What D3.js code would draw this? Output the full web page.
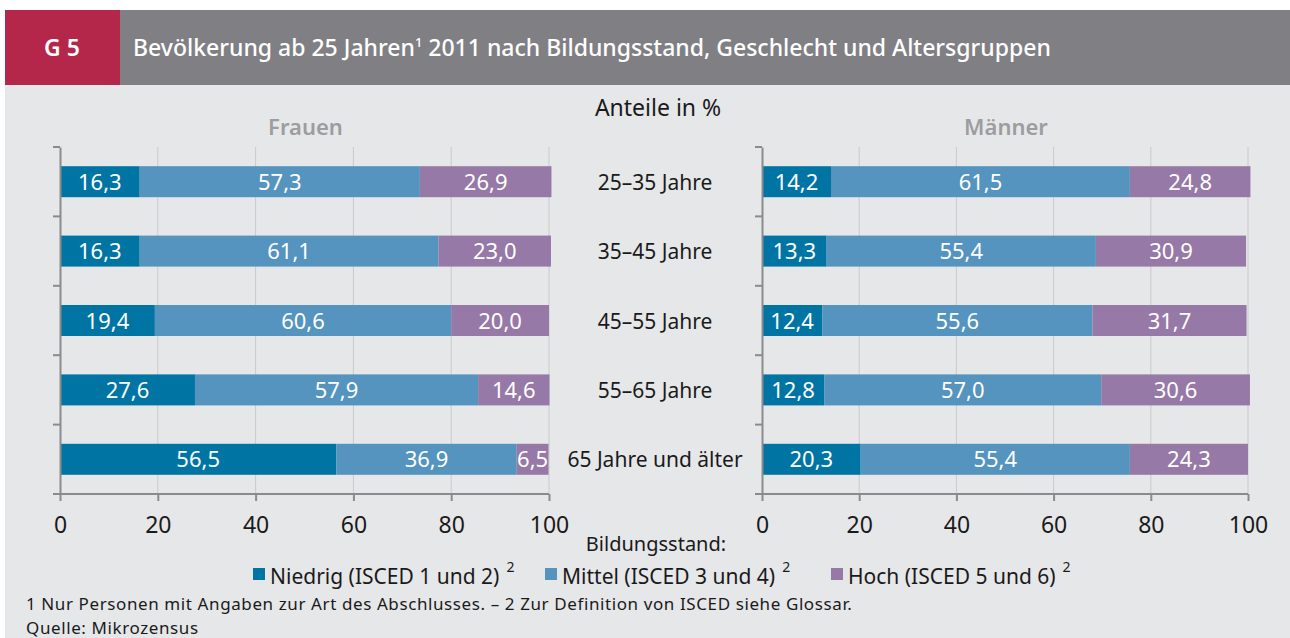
<!DOCTYPE html>
<html><head><meta charset="utf-8">
<script src="https://cdn.jsdelivr.net/npm/d3@7"></script>
<style>
html,body{margin:0;padding:0;background:#fff;}
svg text{font-family:"Noto Sans",sans-serif;}
</style></head>
<body>
<svg id="c" width="1290" height="638"></svg>
<script>
const groups = ["25–35 Jahre","35–45 Jahre","45–55 Jahre","55–65 Jahre","65 Jahre und älter"];
const seriesNames = ["Niedrig (ISCED 1 und 2)","Mittel (ISCED 3 und 4)","Hoch (ISCED 5 und 6)"];
const frauenNiedrig = [16.3,16.3,19.4,27.6,56.5];
const frauenMittel  = [57.3,61.1,60.6,57.9,36.9];
const frauenHoch    = [26.9,23.0,20.0,14.6,6.5];
const maennerNiedrig = [14.2,13.3,12.4,12.8,20.3];
const maennerMittel  = [61.5,55.4,55.6,57.0,55.4];
const maennerHoch    = [24.8,30.9,31.7,30.6,24.3];
const xTicks = [0,20,40,60,80,100];
const colors = ["#0075a4","#5494be","#9679a6"];

const svg = d3.select("#c");
// backgrounds
svg.append("rect").attr("x",5).attr("y",84).attr("width",1285).attr("height",554).attr("fill","#e6e7e9");
svg.append("rect").attr("x",120).attr("y",10).attr("width",1170).attr("height",75).attr("fill","#808084");
svg.append("rect").attr("x",5).attr("y",10).attr("width",115).attr("height",75).attr("fill","#b5264b");
svg.append("text").attr("x",44).attr("y",56).attr("fill","#fff").attr("font-size",23).attr("font-weight",600).text("G 5");
const title = svg.append("text").attr("x",133).attr("y",56).attr("fill","#fff").attr("font-size",23).attr("font-weight",500);
title.append("tspan").text("Bevölkerung ab 25 Jahren");
title.append("tspan").attr("font-size",13).attr("dy",-9).text("1");
title.append("tspan").attr("dy",9).text(" 2011 nach Bildungsstand, Geschlecht und Altersgruppen");

svg.append("text").attr("x",658).attr("y",116).attr("text-anchor","middle").attr("font-size",23).attr("fill","#1a1a1a").text("Anteile in %");

const y = d3.scaleBand().domain(groups).range([147,494]).padding(0);
const barH = 31;

function panel(x0, x1, label, data){
  const x = d3.scaleLinear().domain([0,100]).range([x0,x1]);
  const g = svg.append("g");
  g.append("text").attr("x",(x0+x1)/2+1).attr("y",135).attr("text-anchor","middle").attr("font-size",22).attr("font-weight",600).attr("fill","#9d9d9f").text(label);
  // gridlines
  g.selectAll(".grid").data(xTicks.slice(1)).join("line")
    .attr("x1",d=>x(d)).attr("x2",d=>x(d)).attr("y1",147).attr("y2",494)
    .attr("stroke","#c9cacc").attr("stroke-width",1);
  // bars
  const rows = groups.map((gname,i)=>{
    const vals = data.map(s=>s[i]);
    let c = 0;
    return vals.map((v,k)=>{const seg={g:gname,k,v,a:c,b:c+v}; c+=v; return seg;});
  }).flat();
  g.selectAll(".bar").data(rows).join("rect")
    .attr("x",d=>x(d.a)).attr("width",d=>x(d.b)-x(d.a))
    .attr("y",d=>y(d.g)+y.bandwidth()/2-barH/2).attr("height",barH)
    .attr("fill",d=>colors[d.k]);
  g.selectAll(".lbl").data(rows).join("text")
    .attr("x",d=>(x(d.a)+x(d.b))/2).attr("y",d=>y(d.g)+y.bandwidth()/2+8)
    .attr("text-anchor","middle").attr("font-size",22).attr("fill","#fff")
    .text(d=>d.v.toFixed(1).replace(".",","));
  // y axis
  const ya = d3.axisLeft(y).tickSize(0).tickFormat("");
  const yg = g.append("g").attr("transform",`translate(${x0},0)`).call(ya);
  yg.select(".domain").attr("stroke","#8a8b8d").attr("stroke-width",2);
  const bounds = groups.map(d=>y(d)).concat([494]);
  yg.selectAll(".bt").data(bounds).join("line").attr("x1",-7).attr("x2",0).attr("y1",d=>d).attr("y2",d=>d)
    .attr("stroke","#8a8b8d").attr("stroke-width",2);
  // x axis
  const xa = d3.axisBottom(x).tickValues(xTicks).tickSize(7).tickPadding(16).tickFormat(d3.format("d"));
  const xg = g.append("g").attr("transform","translate(0,494)").call(xa);
  xg.select(".domain").attr("stroke","#8a8b8d").attr("stroke-width",2).attr("d",`M${x0},0H${x1}`);
  xg.selectAll(".tick line").attr("stroke","#8a8b8d").attr("stroke-width",2);
  xg.selectAll(".tick text").attr("font-size",23).attr("fill","#1a1a1a").attr("font-family","Noto Sans");
}
panel(60,549,"Frauen",[frauenNiedrig,frauenMittel,frauenHoch]);
panel(762,1248,"Männer",[maennerNiedrig,maennerMittel,maennerHoch]);

// center category labels
svg.selectAll(".cat").data(groups).join("text")
  .attr("x",655).attr("y",d=>y(d)+y.bandwidth()/2+8).attr("text-anchor","middle")
  .attr("font-size",21).attr("fill","#1a1a1a").text(d=>d);

// legend
svg.append("text").attr("x",656).attr("y",551).attr("text-anchor","middle").attr("font-size",20).attr("fill","#1a1a1a").text("Bildungsstand:");
const legX = [253,545,831];
seriesNames.forEach((s,i)=>{
  svg.append("rect").attr("x",legX[i]).attr("y",568).attr("width",12).attr("height",12).attr("fill",colors[i]);
  const t = svg.append("text").attr("x",legX[i]+17).attr("y",584).attr("font-size",21).attr("fill","#1a1a1a");
  t.append("tspan").text(s);
  t.append("tspan").attr("font-size",14).attr("dx",7).attr("dy",-12).text("2");
});

svg.append("text").attr("x",26).attr("y",610).attr("font-size",17).attr("letter-spacing",0.6).attr("fill","#1a1a1a").text("1 Nur Personen mit Angaben zur Art des Abschlusses. – 2 Zur Definition von ISCED siehe Glossar.");
svg.append("text").attr("x",26).attr("y",634).attr("font-size",17).attr("letter-spacing",0.6).attr("fill","#1a1a1a").text("Quelle: Mikrozensus");
</script>
</body></html>
